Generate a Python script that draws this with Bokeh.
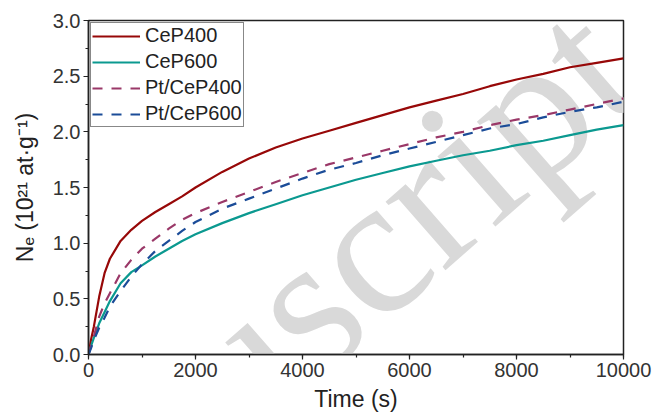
from bokeh.plotting import figure
from bokeh.models import (Legend, LegendItem, Label, NumeralTickFormatter,
                          SingleIntervalTicker, Range1d)
from bokeh.embed import file_html
from bokeh.resources import INLINE

# ---- data ----
time_s = [0, 50, 100, 200, 300, 400, 600, 800, 1000, 1250, 1500, 1750, 2000,
          2500, 3000, 3500, 4000, 4500, 5000, 5500, 6000, 6500, 7000, 7500,
          8000, 8500, 9000, 9500, 10000]

cep400 = [0.0, 0.14, 0.25, 0.52, 0.73, 0.86, 1.02, 1.12, 1.20, 1.28, 1.35, 1.42, 1.50,
          1.64, 1.76, 1.86, 1.94, 2.01, 2.08, 2.15, 2.22, 2.28, 2.34, 2.41,
          2.47, 2.52, 2.58, 2.62, 2.66]

cep600 = [0.0, 0.08, 0.15, 0.28, 0.38, 0.48, 0.64, 0.74, 0.80, 0.88, 0.95, 1.02, 1.08,
          1.18, 1.27, 1.35, 1.43, 1.50, 1.57, 1.63, 1.69, 1.74, 1.79, 1.83,
          1.88, 1.92, 1.97, 2.02, 2.06]

pt_cep400 = [0.0, 0.08, 0.16, 0.34, 0.46, 0.55, 0.73, 0.85, 0.95, 1.04, 1.13, 1.21, 1.27,
             1.37, 1.46, 1.55, 1.63, 1.71, 1.77, 1.83, 1.89, 1.95, 2.00, 2.06,
             2.11, 2.15, 2.20, 2.25, 2.30]

pt_cep600 = [0.0, 0.06, 0.13, 0.24, 0.33, 0.43, 0.57, 0.70, 0.81, 0.93, 1.02, 1.11, 1.19,
             1.31, 1.40, 1.49, 1.58, 1.66, 1.72, 1.79, 1.85, 1.91, 1.97, 2.03,
             2.07, 2.13, 2.18, 2.22, 2.27]

series_names = ["CeP400", "CeP600", "Pt/CeP400", "Pt/CeP600"]
x_label = "Time (s)"
y_label = "N\u2091 (10\u00b2\u00b9 at\u00b7g\u207b\u00b9)"
watermark = "Manuscript"

FONT = "Liberation Sans"

p = figure(width=654, height=419, output_backend="svg", toolbar_location=None,
           x_range=Range1d(0, 10000), y_range=Range1d(0, 3.0),
           min_border_left=88, min_border_right=31, min_border_top=20,
           min_border_bottom=65)

p.background_fill_color = "white"
p.border_fill_color = "white"
p.xgrid.visible = False
p.ygrid.visible = False
p.outline_line_color = "#222222"
p.outline_line_width = 1.5

# watermark behind the data
wm = Label(x=9663, y=2.811, text=watermark, text_font="Liberation Serif",
           text_font_size="198px", angle=0.72, text_align="right",
           text_baseline="middle", text_color="#d9d9d9", level="underlay")
p.add_layout(wm)

r1 = p.line(time_s, cep400, line_color="#970808", line_width=2.2)
r2 = p.line(time_s, cep600, line_color="#0B9990", line_width=2.2)
r3 = p.line(time_s, pt_cep400, line_color="#9A3868", line_width=2.2, line_dash="10 9")
r4 = p.line(time_s, pt_cep600, line_color="#1B4C98", line_width=2.2, line_dash="10 9")

legend = Legend(items=[LegendItem(label=series_names[0], renderers=[r1]),
                       LegendItem(label=series_names[1], renderers=[r2]),
                       LegendItem(label=series_names[2], renderers=[r3]),
                       LegendItem(label=series_names[3], renderers=[r4])],
                location="top_left", margin=2, padding=1, spacing=3,
                glyph_width=48, glyph_height=22, label_height=22,
                label_standoff=5, label_text_font=FONT,
                label_text_font_size="20px", label_text_color="#222222",
                border_line_color="#111111", border_line_width=1.5,
                background_fill_color="white", background_fill_alpha=1.0)
p.add_layout(legend)

p.xaxis.ticker = SingleIntervalTicker(interval=2000, num_minor_ticks=2)
p.yaxis.ticker = SingleIntervalTicker(interval=0.5, num_minor_ticks=2)
p.yaxis.formatter = NumeralTickFormatter(format="0.0")

for ax in (p.xaxis[0], p.yaxis[0]):
    ax.axis_line_color = "#222222"
    ax.axis_line_width = 1.5
    ax.major_tick_line_color = "#222222"
    ax.minor_tick_line_color = "#222222"
    ax.major_tick_line_width = 1.2
    ax.minor_tick_line_width = 1.2
    ax.major_tick_in = 0
    ax.major_tick_out = 5
    ax.minor_tick_in = 0
    ax.minor_tick_out = 3
    ax.major_label_text_font = FONT
    ax.major_label_text_font_size = "20px"
    ax.major_label_text_color = "#333333"
    ax.major_label_standoff = 3
    ax.axis_label_text_font = FONT
    ax.axis_label_text_font_size = "23px"
    ax.axis_label_text_font_style = "normal"
    ax.axis_label_text_color = "#222222"

p.xaxis.axis_label = x_label
p.yaxis.axis_label = y_label
p.xaxis.axis_label_standoff = 6
p.yaxis.axis_label_standoff = 12

open("out.html", "w").write(file_html(p, INLINE))
